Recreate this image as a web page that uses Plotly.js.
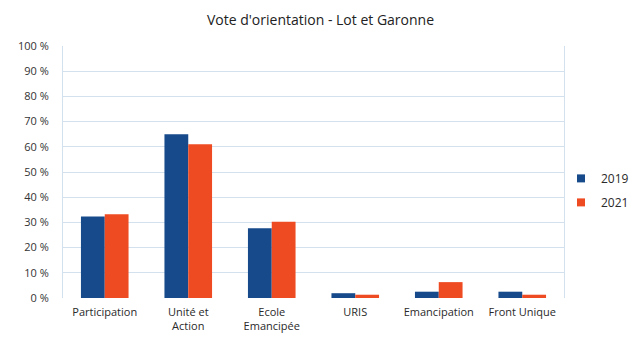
<!DOCTYPE html>
<html>
<head>
<meta charset="utf-8">
<script src="https://cdn.plot.ly/plotly-3.0.1.min.js"></script>
<style>html,body{margin:0;padding:0;background:#fff;}</style>
</head>
<body>
<div id="chart" style="width:641px;height:338px;"></div>
<script>
var categories = ["Participation", "Unité et<br>Action", "Ecole<br>Emancipée", "URIS", "Emancipation", "Front Unique"];
var values2019 = [32.3, 65.0, 27.7, 1.9, 2.5, 2.5];
var values2021 = [33.2, 61.0, 30.3, 1.3, 6.3, 1.3];
var seriesNames = ["2019", "2021"];
var colors = ["#174a8b", "#ef4b22"];

var font = "Open Sans, Liberation Sans, sans-serif";
var traces = [
  {type: "bar", name: seriesNames[0], x: categories, y: values2019, marker: {color: colors[0]}, showlegend: false},
  {type: "bar", name: seriesNames[1], x: categories, y: values2021, marker: {color: colors[1]}, showlegend: false},
  {type: "scatter", mode: "markers", name: seriesNames[0], legendgroup: "g0", x: [null], y: [null],
   marker: {symbol: "square", size: 8, color: colors[0]}},
  {type: "scatter", mode: "markers", name: seriesNames[1], legendgroup: "g1", x: [null], y: [null],
   marker: {symbol: "square", size: 8, color: colors[1]}}
];
var layout = {
  width: 641, height: 338,
  margin: {l: 63, r: 77, t: 46, b: 40, autoexpand: false},
  paper_bgcolor: "#ffffff", plot_bgcolor: "#ffffff",
  title: {text: "Vote d'orientation - Lot et Garonne", x: 0.5, xanchor: "center", y: 0.94, yanchor: "middle",
          font: {family: font, size: 14, color: "#222222"}},
  barmode: "group", bargap: 0.43, bargroupgap: 0,
  font: {family: font, size: 11, color: "#333333"},
  xaxis: {type: "category", showgrid: false, zeroline: false, showline: false,
          tickfont: {family: font, size: 11, color: "#2a2a2a"}, ticks: "", automargin: false, ticklabelstandoff: 6},
  yaxis: {range: [0, 100], dtick: 10, ticksuffix: " %", showgrid: true, gridcolor: "#d3e0ee", gridwidth: 1,
          zeroline: false, showline: true, linecolor: "#d3e0ee", mirror: true, ticks: "", automargin: false,
          ticklabelstandoff: 11,
          tickfont: {family: font, size: 11, color: "#333333"}},
  legend: {x: 0.994, xanchor: "left", y: 0.427, yanchor: "middle", font: {family: font, size: 12, color: "#2a2a2a"},
           itemwidth: 30, tracegroupgap: 5, bgcolor: "rgba(0,0,0,0)"},
  showlegend: true
};
Plotly.newPlot("chart", traces, layout, {displayModeBar: false, staticPlot: true});
</script>
</body>
</html>
